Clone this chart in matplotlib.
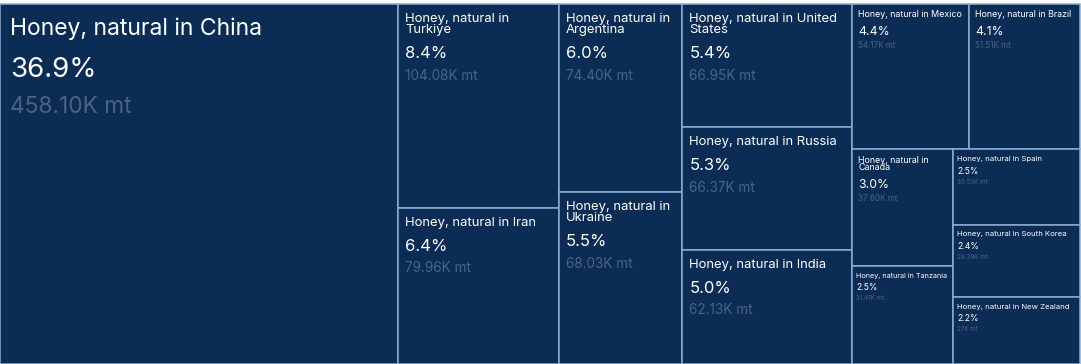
import matplotlib
matplotlib.use("Agg")
import matplotlib.pyplot as plt
from matplotlib.patches import Rectangle

plt.rcParams['font.family'] = ['Inter', 'DejaVu Sans']

# Data (thousand metric tonnes)
countries = ["China", "Turkiye", "Iran", "Argentina", "Ukraine", "United States",
             "Russia", "India", "Mexico", "Brazil", "Canada", "Tanzania",
             "Spain", "South Korea", "New Zealand"]
values = [458.10, 104.08, 79.96, 74.40, 68.03, 66.95,
          66.37, 62.13, 54.17, 51.51, 37.60, 31.41,
          30.53, 29.39, 27.00]
value_labels = ["458.10K mt", "104.08K mt", "79.96K mt", "74.40K mt", "68.03K mt",
                "66.95K mt", "66.37K mt", "62.13K mt", "54.17K mt", "51.51K mt",
                "37.60K mt", "31.41K mt", "30.53K mt", "29.39K mt", "27K mt"]

W, H = 1081, 364
TOP = 4
FILL = "#0b2d55"
EDGE = "#8aadd0"
GREY = "#4b6280"


def squarify(vals, x0, y0, x1, y1):
    # d3-style squarified treemap, ratio 1
    rects = [None] * len(vals)
    total = sum(vals)
    i0 = 0
    n = len(vals)
    while i0 < n:
        dx, dy = x1 - x0, y1 - y0
        i1 = i0 + 1
        s = vals[i0]
        mn = mx = s
        alpha = max(dy / dx, dx / dy) / total
        beta = s * s * alpha
        best = max(mx / beta, beta / mn)
        while i1 < n:
            v = vals[i1]
            s2 = s + v
            mn2, mx2 = min(mn, v), max(mx, v)
            beta = s2 * s2 * alpha
            r = max(mx2 / beta, beta / mn2)
            if r > best:
                break
            s, mn, mx, best = s2, mn2, mx2, r
            i1 += 1
        if dx < dy:
            ny = y0 + dy * s / total
            cx = x0
            for i in range(i0, i1):
                w = dx * vals[i] / s
                rects[i] = (cx, y0, w, ny - y0)
                cx += w
            y0 = ny
        else:
            nx = x0 + dx * s / total
            cy = y0
            for i in range(i0, i1):
                h = dy * vals[i] / s
                rects[i] = (x0, cy, nx - x0, h)
                cy += h
            x0 = nx
        total -= s
        i0 = i1
    return rects


rects = squarify(values, 0, TOP, W - 1, H)
grand = sum(values)

fig = plt.figure(figsize=(W / 100, H / 100), dpi=100)
ax = fig.add_axes([0, 0, 1, 1])
ax.set_xlim(0, W)
ax.set_ylim(H, 0)
ax.axis("off")
fig.canvas.draw()
renderer = fig.canvas.get_renderer()


def tier(w, h):
    a = (w * h) ** 0.5
    if a >= 300:
        return dict(name=16.5, pct=20, val=16.3, pad=10, top=13, shrink=False)
    if a >= 135:
        return dict(name=9.4, pct=12, val=9.8, pad=7, top=7.5, shrink=False)
    if a >= 105:
        return dict(name=6.4, pct=8.8, val=5.8, pad=6, top=6, shrink=False)
    return dict(name=5.6, pct=6.2, val=4.5, pad=4, top=5, shrink=True)


def text_width(s, size):
    t = ax.text(0, 0, s, fontsize=size)
    tw = t.get_window_extent(renderer).width
    t.remove()
    return tw


def wrap(words, size, maxw):
    lines, cur = [], ""
    for wd in words:
        trial = (cur + " " + wd).strip()
        if text_width(trial, size) > maxw and cur:
            lines.append(cur)
            cur = wd
        else:
            cur = trial
    lines.append(cur)
    return lines


for c, v, lab, (x, y, w, h) in zip(countries, values, value_labels, rects):
    ax.add_patch(Rectangle((x, y), w, h, facecolor=FILL, edgecolor=EDGE, linewidth=1.1))
    st = tier(w, h)
    px = lambda pt: pt / 72 * 100
    name = "Honey, natural in " + c
    nsize = st["name"]
    maxw = w - 2 * st["pad"]
    if st["shrink"]:
        while text_width(name, nsize) > maxw and nsize > 3:
            nsize -= 0.2
        lines = [name]
    else:
        lines = wrap(name.split(), nsize, maxw)
    tx = x + st["pad"]
    by = y + st["top"] + px(st["name"]) * 0.8
    for k, ln in enumerate(lines):
        ax.text(tx, by, ln, fontsize=nsize, color="white", va="baseline")
        if k < len(lines) - 1:
            by += px(nsize) * 0.85
    by += px(st["pct"]) * 1.5
    ax.text(tx, by, f"{v / grand * 100:.1f}%", fontsize=st["pct"], color="white", va="baseline")
    by += px(st["val"]) * 1.6
    ax.text(tx, by, lab, fontsize=st["val"], color=GREY, va="baseline")

fig.savefig("out.png", dpi=100, facecolor="white")
